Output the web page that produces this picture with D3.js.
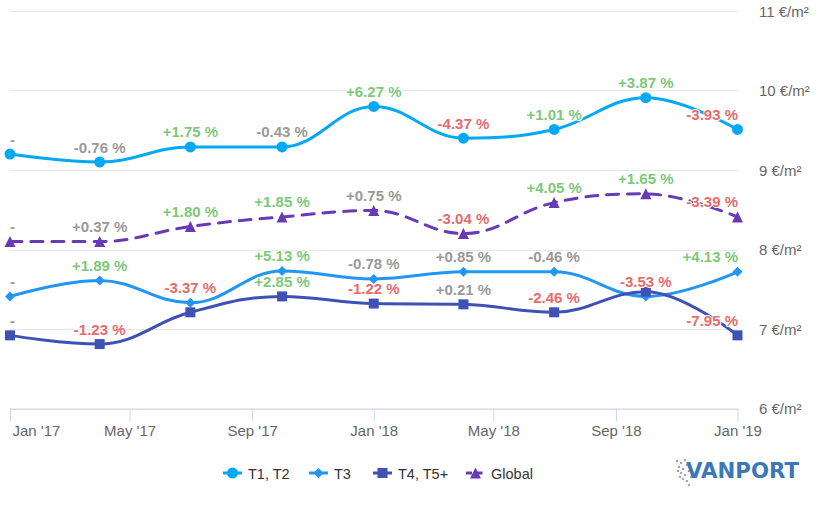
<!DOCTYPE html>
<html>
<head>
<meta charset="utf-8">
<script src="https://cdn.jsdelivr.net/npm/d3@7"></script>
<style>
  html, body { margin: 0; padding: 0; background: #fff; }
  svg { display: block; font-family: "Liberation Sans", Arial, sans-serif; }
</style>
</head>
<body>
<svg id="chart" width="827" height="508"></svg>
<script>
// ---------- DATA ----------
const dates = ["2017-01-01","2017-04-01","2017-07-01","2017-10-01","2018-01-01","2018-04-01","2018-07-01","2018-10-01","2019-01-01"];
const seriesNames = ["T1, T2", "T3", "T4, T5+", "Global"];
const t1t2 = [9.20, 9.10, 9.29, 9.29, 9.80, 9.40, 9.51, 9.91, 9.51];
const t3 = [7.41, 7.61, 7.33, 7.73, 7.63, 7.72, 7.72, 7.41, 7.72];
const t4t5 = [6.92, 6.81, 7.21, 7.41, 7.32, 7.31, 7.21, 7.47, 6.92];
const global = [8.10, 8.10, 8.29, 8.41, 8.49, 8.20, 8.59, 8.70, 8.41];
const t1t2Labels = ["-", "-0.76 %", "+1.75 %", "-0.43 %", "+6.27 %", "-4.37 %", "+1.01 %", "+3.87 %", "-3.93 %"];
const t3Labels = ["-", "+1.89 %", "-3.37 %", "+5.13 %", "-0.78 %", "+0.85 %", "-0.46 %", "-3.53 %", "+4.13 %"];
const t4t5Labels = ["-", "-1.23 %", null, "+2.85 %", "-1.22 %", "+0.21 %", "-2.46 %", null, "-7.95 %"];
const globalLabels = ["-", "+0.37 %", "+1.80 %", "+1.85 %", "+0.75 %", "-3.04 %", "+4.05 %", "+1.65 %", "-3.39 %"];
const yTicks = [6, 7, 8, 9, 10, 11];
const yTickSuffix = " €/m²";
const xTickLabels = ["Jan '17", "May '17", "Sep '17", "Jan '18", "May '18", "Sep '18", "Jan '19"];

// ---------- SETUP ----------
const svg = d3.select("#chart");
const plotLeft = 10, plotRight = 738, plotTop = 11, plotBottom = 408.5;
const parse = d3.utcParse("%Y-%m-%d");
const xDates = dates.map(parse);

const x = d3.scaleUtc()
  .domain([parse("2017-01-01"), parse("2019-01-01")])
  .range([plotLeft, 737.5]);
const y = d3.scaleLinear().domain([6, 11]).range([plotBottom, plotTop]);

const series = [
  { name: seriesNames[0], values: t1t2, labels: t1t2Labels, color: "#03a9f4", symbol: "circle", dash: null },
  { name: seriesNames[1], values: t3, labels: t3Labels, color: "#2196f3", symbol: "diamond", dash: null },
  { name: seriesNames[2], values: t4t5, labels: t4t5Labels, color: "#3f51b5", symbol: "square", dash: null },
  { name: seriesNames[3], values: global, labels: globalLabels, color: "#673ab7", symbol: "triangle", dash: "12,9" }
];

// ---------- GRID ----------
const grid = svg.append("g");
grid.selectAll("line").data(yTicks).join("line")
  .attr("x1", plotLeft).attr("x2", plotRight)
  .attr("y1", d => Math.round(y(d)) + 0.5).attr("y2", d => Math.round(y(d)) + 0.5)
  .attr("stroke", "#e6e6e6").attr("stroke-width", 1);

// y labels (right side)
svg.append("g").selectAll("text").data(yTicks).join("text")
  .attr("x", 759).attr("y", d => y(d) + 5.5)
  .attr("font-size", 15).attr("fill", "#666")
  .text(d => d + yTickSuffix);

// ---------- X AXIS ----------
const xTicks = d3.utcMonth.every(4).range(parse("2017-01-01"), parse("2019-01-02"));
const xAxis = d3.axisBottom(x).tickValues(xTicks).tickSize(13).tickFormat((d, i) => xTickLabels[i]);
const xg = svg.append("g").attr("transform", `translate(0,${Math.round(plotBottom) - 0.5})`).call(xAxis);
xg.select(".domain").attr("stroke", "#ccd6eb").attr("d", `M${plotLeft},0.5H${plotRight}`);
xg.selectAll(".tick line").attr("stroke", "#ccd6eb");
xg.selectAll(".tick text")
  .attr("font-size", 15).attr("fill", "#666").attr("font-family", "Liberation Sans, Arial, sans-serif")
  .attr("dy", null).attr("y", 27);
xg.selectAll(".tick").filter((d, i) => i === 0).select("text").attr("text-anchor", "start").attr("x", 2);

// ---------- SPLINE (Highcharts-like) ----------
function splinePath(pts) {
  const p = d3.path();
  const sm = 1.5, den = 2.5;
  const ctrl = pts.map(() => ({}));
  for (let i = 1; i < pts.length - 1; i++) {
    const [px, py] = pts[i], [lx, ly] = pts[i - 1], [nx, ny] = pts[i + 1];
    let lcx = (sm * px + lx) / den, lcy = (sm * py + ly) / den;
    let rcx = (sm * px + nx) / den, rcy = (sm * py + ny) / den;
    if (rcx !== lcx) {
      const corr = ((rcy - lcy) * (rcx - px)) / (rcx - lcx) + py - rcy;
      lcy += corr; rcy += corr;
      if (lcy > ly && lcy > py) { lcy = Math.max(ly, py); rcy = 2 * py - lcy; }
      else if (lcy < ly && lcy < py) { lcy = Math.min(ly, py); rcy = 2 * py - lcy; }
      if (rcy > ny && rcy > py) { rcy = Math.max(ny, py); lcy = 2 * py - rcy; }
      else if (rcy < ny && rcy < py) { rcy = Math.min(ny, py); lcy = 2 * py - rcy; }
    }
    ctrl[i] = { lcx, lcy, rcx, rcy };
  }
  p.moveTo(pts[0][0], pts[0][1]);
  for (let i = 1; i < pts.length; i++) {
    const a = ctrl[i - 1], b = ctrl[i];
    p.bezierCurveTo(
      a.rcx !== undefined ? a.rcx : pts[i - 1][0], a.rcy !== undefined ? a.rcy : pts[i - 1][1],
      b.lcx !== undefined ? b.lcx : pts[i][0], b.lcy !== undefined ? b.lcy : pts[i][1],
      pts[i][0], pts[i][1]);
  }
  return p.toString();
}

function symbolPath(type, cx, cy, r) {
  const p = d3.path();
  if (type === "circle") { p.moveTo(cx + r, cy); p.arc(cx, cy, r, 0, 2 * Math.PI); }
  else if (type === "square") { p.rect(cx - r, cy - r, 2 * r, 2 * r); }
  else if (type === "diamond") { p.moveTo(cx, cy - r); p.lineTo(cx + r, cy); p.lineTo(cx, cy + r); p.lineTo(cx - r, cy); p.closePath(); }
  else if (type === "triangle") { p.moveTo(cx, cy - r); p.lineTo(cx + r, cy + r); p.lineTo(cx - r, cy + r); p.closePath(); }
  return p.toString();
}
const symbolSize = { circle: 5.5, square: 5, diamond: 5, triangle: 5.5 };

// ---------- SERIES ----------
const seriesG = svg.append("g");
series.forEach(s => {
  const pts = s.values.map((v, i) => [x(xDates[i]), y(v)]);
  const g = seriesG.append("g");
  g.append("path").attr("d", splinePath(pts))
    .attr("fill", "none").attr("stroke", s.color).attr("stroke-width", 3)
    .attr("stroke-linejoin", "round").attr("stroke-linecap", "round")
    .attr("stroke-dasharray", s.dash);
  g.selectAll("path.m").data(pts).join("path").attr("class", "m")
    .attr("d", d => symbolPath(s.symbol, d[0], d[1], symbolSize[s.symbol]))
    .attr("fill", s.color);
});

// ---------- DATA LABELS ----------
function labelColor(t) {
  const v = parseFloat(t);
  if (isNaN(v)) return "#999999";
  if (v > 1) return "#7cc97a";
  if (v < -1) return "#e86b6b";
  return "#999999";
}
const labelG = svg.append("g");
series.forEach(s => {
  s.values.forEach((v, i) => {
    const t = s.labels[i];
    if (t === null) return;
    const cx = x(xDates[i]), cy = y(v);
    const txt = labelG.append("text")
      .attr("x", cx).attr("y", cy - 9.5)
      .attr("text-anchor", "middle")
      .attr("font-size", 15).attr("font-weight", "bold")
      .attr("fill", labelColor(t))
      .attr("stroke", "#fff").attr("stroke-width", 2).attr("stroke-linejoin", "round")
      .attr("paint-order", "stroke")
      .text(t);
    const w = txt.node().getComputedTextLength();
    if (cx - w / 2 < plotLeft) txt.attr("text-anchor", "start").attr("x", plotLeft);
    else if (cx + w / 2 > plotRight) txt.attr("text-anchor", "end").attr("x", plotRight);
  });
});

// ---------- LEGEND ----------
const legend = svg.append("g");
const legendX = [223, 309, 373, 466];
series.forEach((s, i) => {
  const g = legend.append("g").attr("transform", `translate(${legendX[i]},473)`);
  g.append("line").attr("x1", 0).attr("x2", 19).attr("y1", 0).attr("y2", 0)
    .attr("stroke", s.color).attr("stroke-width", 3).attr("stroke-dasharray", s.dash ? "6,4.5" : null);
  g.append("path").attr("d", symbolPath(s.symbol, 9.5, 0, symbolSize[s.symbol])).attr("fill", s.color);
  g.append("text").attr("x", 25).attr("y", 6).attr("font-size", 14.5).attr("fill", "#333").text(s.name);
});

// ---------- LOGO ----------
const logo = svg.append("g");
const dots = [[676,460],[680,462],[684,459],[678,466],[682,468],[686,464],[680,472],[684,474],[688,470],[682,478],[686,480],[690,476],[677,470],[688,484],[679,476]];
logo.selectAll("rect").data(dots).join("rect")
  .attr("x", d => d[0]).attr("y", d => d[1]).attr("width", 2).attr("height", 2)
  .attr("fill", (d, i) => i % 4 === 0 ? "#c96a6a" : "#6f9bc8").attr("opacity", 0.8);
logo.append("text").attr("x", 686).attr("y", 478)
  .attr("font-size", 21).attr("font-weight", "bold").attr("fill", "#3b78b8")
  .attr("textLength", 113).attr("lengthAdjust", "spacingAndGlyphs")
  .attr("font-family", "DejaVu Sans, sans-serif")
  .text("VANPORT");
</script>
</body>
</html>
